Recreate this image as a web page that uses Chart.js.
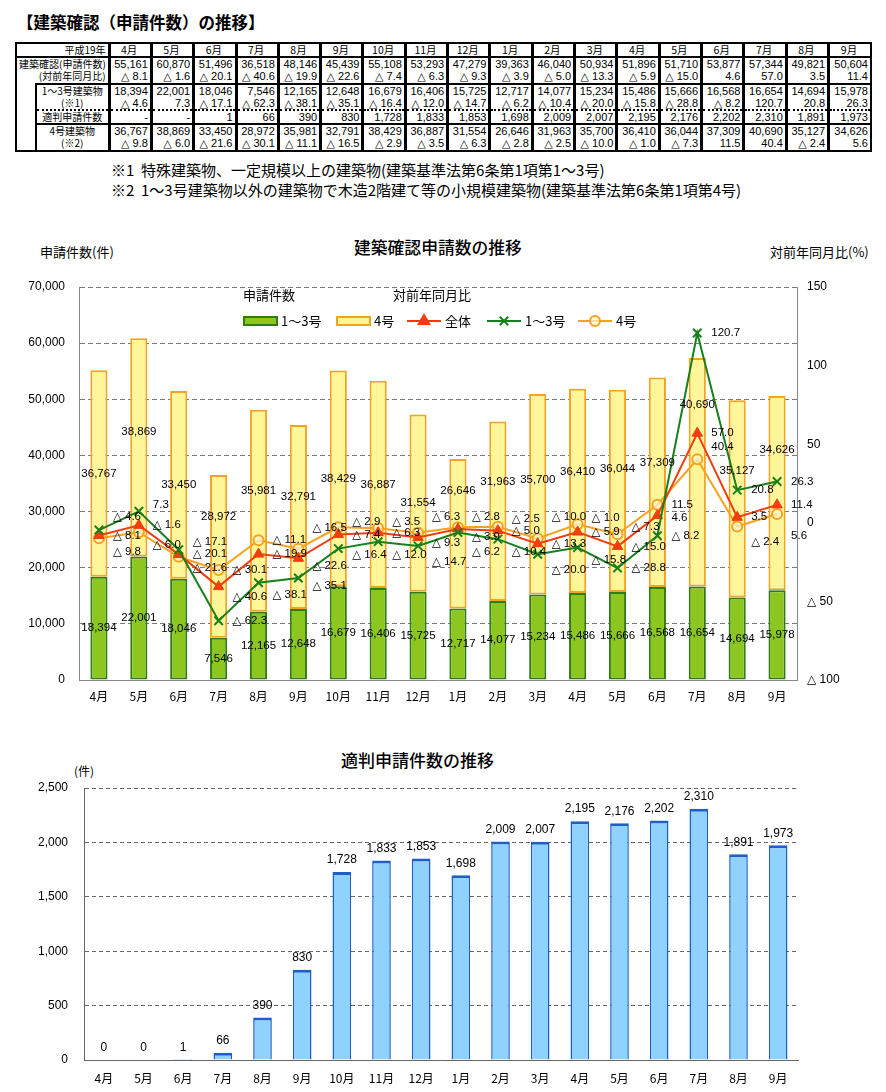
<!DOCTYPE html>
<html lang="ja">
<head>
<meta charset="utf-8">
<title>建築確認(申請件数)の推移</title>
<script src="https://cdn.jsdelivr.net/npm/chart.js@4.4.1/dist/chart.umd.min.js"></script>
<style>
  html, body { margin: 0; padding: 0; background: #fff; }
  body { position: relative; width: 886px; height: 1092px; overflow: hidden; font-family: "Noto Sans CJK JP", sans-serif; color: #000; }
  .abs { position: absolute; white-space: nowrap; }
  #pageTitle { left: 17px; top: 11px; font-size: 16.5px; font-weight: bold; line-height: 22px; }
  #tblWrap { position: absolute; left: 15px; top: 42px; }
  #tbl { border-collapse: collapse; table-layout: fixed; width: 855px; border: 2px solid #000; }
  #tbl tr { height: 12.2px; }
  #tbl td { padding: 0 2px 0 0; height: 12.2px; line-height: 12px; font-size: 11px; white-space: nowrap; overflow: visible; border: 0; vertical-align: middle; }
  #tbl td.m { text-align: right; border-left: 3px solid #000; font-family: "Liberation Sans Narrow", "Liberation Sans", "DejaVu Sans", sans-serif; }
  #tbl tr.hd td { border-bottom: 2px solid #000; }
  #tbl tr.hd td.m { text-align: center; font-family: "Noto Sans CJK JP", sans-serif; font-size: 10.5px; }
  #tbl td.lab { font-size: 10px; text-align: left; padding-left: 2px; }
  #tbl td.lab.r { text-align: right; }
  #tbl td.lab.c { text-align: center; }
  #tbl tr.endgrp td.m { border-bottom: 2px solid #000; }
  #tbl tr.topline td.lab { border-top: 2px solid #000; }
  #tbl td.side { border-right: 2px solid #000; }
  #tbl tr.dotb td { border-bottom: 2px dotted #000; }
  #tbl tr.solb td { border-bottom: 2px solid #000; }
  .note { left: 111px; font-size: 15px; line-height: 18px; }
  .axisTitle { font-size: 13px; line-height: 16px; }
  .chartTitle { line-height: 20px; font-weight: 500; }
  canvas { position: absolute; left: 0; }
</style>
</head>
<body>
<div id="pageTitle" class="abs">【建築確認（申請件数）の推移】</div>
<div id="tblWrap"></div>
<div class="abs note" style="top:161px">※1&nbsp;&nbsp;特殊建築物、一定規模以上の建築物(建築基準法第6条第1項第1～3号)</div>
<div class="abs note" style="top:181px">※2&nbsp;&nbsp;1～3号建築物以外の建築物で木造2階建て等の小規模建築物(建築基準法第6条第1項第4号)</div>

<div class="abs axisTitle" style="left:40px; top:244px">申請件数(件)</div>
<div class="abs chartTitle" style="left:354px; top:237px; font-size:16.8px">建築確認申請数の推移</div>
<div class="abs axisTitle" style="left:770px; top:244px">対前年同月比(%)</div>
<canvas id="chart1" width="886" height="480" style="top:230px"></canvas>

<div class="abs chartTitle" style="left:341px; top:750px; font-size:17px">適判申請件数の推移</div>
<div class="abs axisTitle" style="left:74px; top:763px; font-size:12px">(件)</div>
<canvas id="chart2" width="886" height="362" style="top:730px"></canvas>

<script>
// ---- data (平成19年4月 〜 平成20年9月) ----
const months = ['4月', '5月', '6月', '7月', '8月', '9月', '10月', '11月', '12月', '1月', '2月', '3月', '4月', '5月', '6月', '7月', '8月', '9月'];
const totalApps = [55161, 60870, 51496, 36518, 48146, 45439, 55108, 53293, 47279, 39363, 46040, 50934, 51896, 51710, 53877, 57344, 49821, 50604];
const totalPct = [-8.1, -1.6, -20.1, -40.6, -19.9, -22.6, -7.4, -6.3, -9.3, -3.9, -5.0, -13.3, -5.9, -15.0, 4.6, 57.0, 3.5, 11.4];
const class13 = [18394, 22001, 18046, 7546, 12165, 12648, 16679, 16406, 15725, 12717, 14077, 15234, 15486, 15666, 16568, 16654, 14694, 15978];
const class13Pct = [-4.6, 7.3, -17.1, -62.3, -38.1, -35.1, -16.4, -12.0, -14.7, -6.2, -10.4, -20.0, -15.8, -28.8, -8.2, 120.7, 20.8, 26.3];
const tekihan = [0, 0, 1, 66, 390, 830, 1728, 1833, 1853, 1698, 2009, 2007, 2195, 2176, 2202, 2310, 1891, 1973];
const class4 = [36767, 38869, 33450, 28972, 35981, 32791, 38429, 36887, 31554, 26646, 31963, 35700, 36410, 36044, 37309, 40690, 35127, 34626];
const class4Pct = [-9.8, -6.0, -21.6, -30.1, -11.1, -16.5, -2.9, -3.5, -6.3, -2.8, -2.5, -10.0, -1.0, -7.3, 11.5, 40.4, -2.4, 5.6];

// label nudges (px) so the labels sit where the original report put them
const class4LabelDy = [0, -16, 0, -39, -20, -20, 0, 0, 0, -43, -29, -14, -19, -22, -19, -67, -28, -43];
const class13PctLabelDy = [-13, -6, -8, 0, 12, 8, 6, 13, 16, 19, 13, 16, 12, 0, 0, 0, 0, 0];
const totalPctLabelDy = [0, 0, -1, 10, 0, 8, 0, 0, 5, 8, 0, 0, 0, 0, 2, 0, 0, 0];
const class4PctLabelDy = [14, 13, 11, 0, 0, -21, -6, -6, -16, -10, -8, -22, -7, -7, 0, -12, 15, 22];

const NUM_FONT = '"Liberation Sans", "DejaVu Sans", sans-serif';
const CJK_FONT = '"Noto Sans CJK JP", sans-serif';

const fmtInt = v => v.toLocaleString('en-US');
const fmtPct = v => (v < 0 ? '△ ' + Math.abs(v).toFixed(1) : v.toFixed(1));

// ---- table ----
function cells(arr, fmt) {
    return arr.map(v => `<td class="m">${fmt(v)}</td>`).join('');
}
document.getElementById('tblWrap').innerHTML = `
<table id="tbl">
  <colgroup><col style="width:20px"><col style="width:73px">${months.map(() => '<col style="width:42.33px">').join('')}</colgroup>
  <tr class="hd"><td colspan="2" class="lab r">平成19年</td>${months.map(m => `<td class="m">${m}</td>`).join('')}</tr>
  <tr><td colspan="2" class="lab">建築確認(申請件数)</td>${cells(totalApps, fmtInt)}</tr>
  <tr class="endgrp"><td colspan="2" class="lab r">(対前年同月比)</td>${cells(totalPct, fmtPct)}</tr>
  <tr class="topline"><td rowspan="5" class="side"></td><td class="lab c">1～3号建築物</td>${cells(class13, fmtInt)}</tr>
  <tr class="dotb"><td class="lab c">(※1)</td>${cells(class13Pct, fmtPct)}</tr>
  <tr class="solb"><td class="lab c">適判申請件数</td>${cells(tekihan, v => (v ? fmtInt(v) : '-'))}</tr>
  <tr><td class="lab c">4号建築物</td>${cells(class4, fmtInt)}</tr>
  <tr><td class="lab c">(※2)</td>${cells(class4Pct, fmtPct)}</tr>
</table>`;

Chart.defaults.font.family = NUM_FONT;
Chart.defaults.color = '#000';

// ===== chart 1: stacked bars + YoY lines =====
const chart1Labels = {
    id: 'chart1Labels',
    afterDatasetsDraw(chart) {
        const { ctx } = chart;
        ctx.save();
        ctx.font = '11.5px ' + NUM_FONT;
        ctx.fillStyle = '#000';
        ctx.textBaseline = 'middle';
        chart.data.datasets.forEach((ds, di) => {
            const meta = chart.getDatasetMeta(di);
            meta.data.forEach((el, i) => {
                const v = ds.data[i];
                const dy = ds.labelDy ? ds.labelDy[i] : 0;
                if (ds.type === 'bar') {
                    ctx.textAlign = 'center';
                    ctx.fillText(fmtInt(v), el.x, (el.y + el.base) / 2 + dy);
                } else {
                    ctx.textAlign = 'left';
                    ctx.fillText(fmtPct(v), el.x + 14, el.y + dy);
                }
            });
        });
        ctx.restore();
    }
};

const chart1Legend = {
    id: 'chart1Legend',
    afterDraw(chart) {
        const ctx = chart.ctx;
        const ds = chart.data.datasets;
        const y = 91;
        ctx.save();
        ctx.font = '13px ' + CJK_FONT;
        ctx.textBaseline = 'middle';
        ctx.textAlign = 'left';
        ctx.fillStyle = '#000';
        ctx.fillText('申請件数', 243, 65);
        ctx.fillText('対前年同月比', 393, 65);
        [[ds[3], 244], [ds[4], 337]].forEach(([d, x]) => {
            ctx.fillStyle = d.backgroundColor;
            ctx.fillRect(x, y - 4, 33, 8);
            ctx.strokeStyle = d.borderColor;
            ctx.lineWidth = 2;
            ctx.strokeRect(x, y - 4, 33, 8);
            ctx.fillStyle = '#000';
            ctx.fillText(d.label, x + 37, y);
        });
        [[ds[1], 407], [ds[0], 487], [ds[2], 578]].forEach(([d, x]) => {
            ctx.strokeStyle = d.borderColor;
            ctx.lineWidth = 2;
            ctx.beginPath();
            ctx.moveTo(x, y);
            ctx.lineTo(x + 34, y);
            ctx.stroke();
            ctx.fillStyle = d.pointBackgroundColor;
            Chart.helpers.drawPoint(ctx, { pointStyle: d.pointStyle, radius: d.pointRadius, borderWidth: d.pointBorderWidth, rotation: 0 }, x + 17, y);
            ctx.fillStyle = '#000';
            ctx.fillText(d.label, x + 38, y);
        });
        ctx.restore();
    }
};

new Chart(document.getElementById('chart1'), {
    type: 'bar',
    data: {
        labels: months,
        datasets: [
            { type: 'line', label: '1～3号', data: class13Pct, yAxisID: 'y2', labelDy: class13PctLabelDy,
              borderColor: '#17801a', backgroundColor: '#17801a', pointBackgroundColor: '#17801a', borderWidth: 2,
              pointStyle: 'crossRot', pointRadius: 6, pointBorderWidth: 2, order: 0 },
            { type: 'line', label: '全体', data: totalPct, yAxisID: 'y2', labelDy: totalPctLabelDy,
              borderColor: '#f23d0c', backgroundColor: '#f23d0c', pointBackgroundColor: '#f23d0c', borderWidth: 2,
              pointStyle: 'triangle', pointRadius: 6, pointBorderWidth: 1, order: 1 },
            { type: 'line', label: '4号', data: class4Pct, yAxisID: 'y2', labelDy: class4PctLabelDy,
              borderColor: '#f7a21d', backgroundColor: '#f7a21d', pointBackgroundColor: 'rgba(255,246,214,0.7)', borderWidth: 2,
              pointStyle: 'circle', pointRadius: 5, pointBorderWidth: 2, order: 2 },
            { type: 'bar', label: '1～3号', data: class13, yAxisID: 'y',
              backgroundColor: '#8cc61e', borderColor: '#2f7d12', borderWidth: 2, borderSkipped: false,
              barPercentage: 0.43, categoryPercentage: 1, order: 3 },
            { type: 'bar', label: '4号', data: class4, yAxisID: 'y', labelDy: class4LabelDy,
              backgroundColor: '#fff69a', borderColor: '#f5a21e', borderWidth: 2, borderSkipped: false,
              barPercentage: 0.43, categoryPercentage: 1, order: 4 }
        ]
    },
    options: {
        responsive: false,
        animation: false,
        layout: { padding: { top: 57, left: 0, right: 0, bottom: 0 } },
        plugins: { legend: { display: false }, tooltip: { enabled: false } },
        scales: {
            x: {
                stacked: true,
                grid: { display: false, drawTicks: false },
                border: { display: true, color: '#888' },
                ticks: { padding: 9, font: { size: 12, family: CJK_FONT } },
                afterFit(s) { s.height = 30; }
            },
            y: {
                stacked: true, position: 'left', min: 0, max: 70000,
                ticks: { stepSize: 10000, padding: 14, font: { size: 12 }, callback: v => fmtInt(v) },
                grid: { color: '#7a7a7a', drawTicks: false },
                border: { display: true, color: '#888', dash: [5, 3] },
                afterFit(s) { s.width = 79; }
            },
            y2: {
                stacked: false, position: 'right', min: -100, max: 150,
                ticks: { stepSize: 50, padding: 10, font: { size: 12 }, callback: v => (v < 0 ? '△ ' + Math.abs(v) : String(v)) },
                grid: { drawOnChartArea: false, drawTicks: false },
                border: { display: true, color: '#888' },
                afterFit(s) { s.width = 89; }
            }
        }
    },
    plugins: [chart1Labels, chart1Legend]
});

// ===== chart 2: 適判申請件数 =====
const chart2Labels = {
    id: 'chart2Labels',
    afterDatasetsDraw(chart) {
        const { ctx } = chart;
        const ds = chart.data.datasets[0];
        ctx.save();
        ctx.font = '12px ' + NUM_FONT;
        ctx.fillStyle = '#000';
        ctx.textAlign = 'center';
        ctx.textBaseline = 'middle';
        chart.getDatasetMeta(0).data.forEach((el, i) => {
            ctx.fillText(fmtInt(ds.data[i]), el.x, el.y - 12);
        });
        ctx.restore();
    }
};

new Chart(document.getElementById('chart2'), {
    type: 'bar',
    data: {
        labels: months,
        datasets: [{
            label: '適判申請件数', data: tekihan,
            backgroundColor: '#8fd2fd', borderColor: '#1d5ec9',
            borderWidth: { top: 3, left: 1.5, right: 1.5, bottom: 0 },
            barPercentage: 0.47, categoryPercentage: 1
        }]
    },
    options: {
        responsive: false,
        animation: false,
        layout: { padding: { top: 58, left: 0, right: 88, bottom: 0 } },
        plugins: { legend: { display: false }, tooltip: { enabled: false } },
        scales: {
            x: {
                grid: { display: false, drawTicks: false },
                border: { display: true, color: '#666' },
                ticks: { padding: 11, font: { size: 12, family: CJK_FONT } },
                afterFit(s) { s.height = 32; }
            },
            y: {
                min: 0, max: 2500,
                ticks: { stepSize: 500, padding: 16, font: { size: 12 }, callback: v => fmtInt(v) },
                grid: { color: '#666', drawTicks: false },
                border: { display: true, color: '#666', dash: [4, 3] },
                afterFit(s) { s.width = 84; }
            }
        }
    },
    plugins: [chart2Labels]
});
</script>
</body>
</html>
